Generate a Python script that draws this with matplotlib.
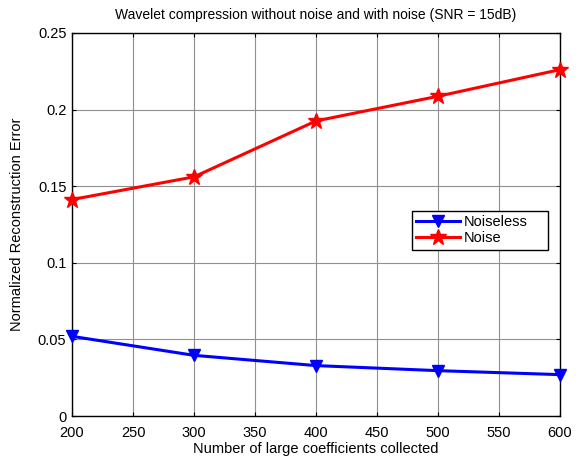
"""
Wavelet compression error, noiseless vs noisy (SNR = 15dB)
"""
import matplotlib
matplotlib.use('Agg')
import matplotlib.pyplot as plt

# Data
num_coeffs = [200, 300, 400, 500, 600]
err_noiseless = [0.052, 0.0396, 0.0329, 0.0296, 0.0270]
err_noise = [0.1413, 0.1561, 0.1926, 0.2087, 0.2261]

x_ticks = [200, 250, 300, 350, 400, 450, 500, 550, 600]
y_ticks = [0, 0.05, 0.1, 0.15, 0.2, 0.25]
y_tick_labels = ['0', '0.05', '0.1', '0.15', '0.2', '0.25']

plt.rcParams['font.family'] = ['Liberation Sans', 'DejaVu Sans']

fig = plt.figure(figsize=(5.8, 4.58), dpi=100)
ax = fig.add_axes([72/580, 42/458, 488/580, 383/458])

ax.plot(num_coeffs, err_noiseless, color='blue', linewidth=2.2,
        marker='v', markersize=9, label='Noiseless', clip_on=False, zorder=3)
ax.plot(num_coeffs, err_noise, color='red', linewidth=2.2,
        marker='*', markersize=12, label='Noise', clip_on=False, zorder=3)

ax.set_xlim(200, 600)
ax.set_ylim(0, 0.25)
ax.set_xticks(x_ticks)
ax.set_yticks(y_ticks)
ax.set_yticklabels(y_tick_labels)
ax.tick_params(direction='in', length=3, labelsize=10.5, width=0.8,
               top=True, right=True)
ax.tick_params(axis='x', pad=7)
ax.tick_params(axis='y', pad=4)
ax.grid(True, color='#909090', linewidth=0.8)
for spine in ax.spines.values():
    spine.set_linewidth(1.0)

ax.set_title('Wavelet compression without noise and with noise (SNR = 15dB)',
             fontsize=10, pad=10)
ax.set_xlabel('Number of large coefficients collected', fontsize=10.5, labelpad=2)
ax.set_ylabel('Normalized Reconstruction Error', fontsize=10.5, labelpad=10)

leg = ax.legend(loc='lower left', bbox_to_anchor=(0.696, 0.434, 0.279, 0.114),
                mode='expand', fontsize=10.5, fancybox=False, framealpha=1,
                edgecolor='black', borderpad=0.3, labelspacing=0.15,
                handlelength=3.0, handletextpad=0.3, borderaxespad=0)
leg.get_frame().set_linewidth(1.0)

fig.savefig('out.png', dpi=100)
